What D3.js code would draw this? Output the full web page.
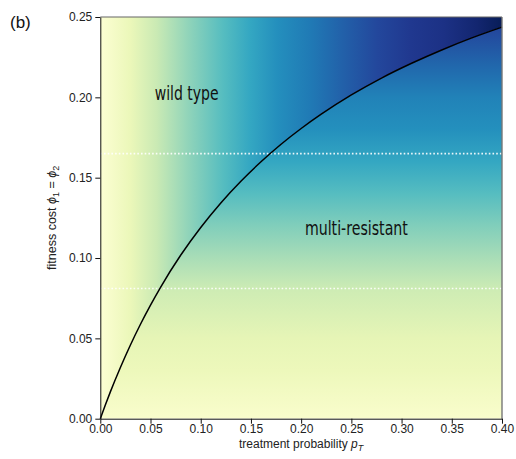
<!DOCTYPE html>
<html>
<head>
<meta charset="utf-8">
<script src="https://cdn.jsdelivr.net/npm/d3@7"></script>
<style>
  html, body { margin: 0; padding: 0; background: #fff; }
  svg { display: block; }
</style>
</head>
<body>
<svg id="chart" width="516" height="459"></svg>
<script>
// boundary curve between the two regions
const curveP   = [0, 0.005, 0.01, 0.02, 0.03, 0.04, 0.05, 0.06, 0.08, 0.10, 0.12, 0.14, 0.16, 0.18, 0.20, 0.22, 0.25, 0.28, 0.31, 0.34, 0.37, 0.40];
const curvePhi = [0, 0.0085, 0.0167, 0.0319, 0.0459, 0.0588, 0.0707, 0.0818, 0.1017, 0.1190, 0.1343, 0.1478, 0.1599, 0.1708, 0.1806, 0.1895, 0.2015, 0.2120, 0.2212, 0.2295, 0.2370, 0.2437];

// wild type region: colour level varies with p_T
const wildP     = [0, 0.03, 0.056, 0.089, 0.122, 0.149, 0.176, 0.209, 0.242, 0.276, 0.309, 0.342, 0.375, 0.40];
const wildLevel = [0.02, 0.12, 0.23, 0.35, 0.46, 0.55, 0.625, 0.68, 0.75, 0.82, 0.87, 0.90, 0.95, 1.0];

// multi-resistant region: colour level varies with phi
const resPhi   = [0, 0.03, 0.05, 0.08, 0.10, 0.12, 0.14, 0.16, 0.18, 0.20, 0.22, 0.24, 0.25];
const resLevel = [0.04, 0.11, 0.14, 0.22, 0.30, 0.375, 0.46, 0.55, 0.62, 0.66, 0.73, 0.81, 0.85];

// dotted reference lines (phi values)
const refPhi = [0.165, 0.081];

const xTicks = [0, 0.05, 0.10, 0.15, 0.20, 0.25, 0.30, 0.35, 0.40];
const yTicks = [0, 0.05, 0.10, 0.15, 0.20, 0.25];

const labels = [
  { text: "wild type",       p: 0.086, phi: 0.1985, len: 64 },
  { text: "multi-resistant", p: 0.255, phi: 0.1145, len: 103 }
];

const margin = { top: 17, right: 14, bottom: 40, left: 100.3 };
const W = 516, H = 459;
const svg = d3.select("#chart");

const x = d3.scaleLinear().domain([0, 0.40]).range([margin.left, W - margin.right]);
const y = d3.scaleLinear().domain([0, 0.25]).range([418.7, margin.top]);
const color = d3.interpolateYlGnBu;

const defs = svg.append("defs");

// horizontal gradient for wild type region
const gWild = defs.append("linearGradient").attr("id", "grad-wild")
  .attr("gradientUnits", "userSpaceOnUse")
  .attr("x1", x(0)).attr("x2", x(0.40)).attr("y1", 0).attr("y2", 0);
gWild.selectAll("stop").data(wildP).enter().append("stop")
  .attr("offset", d => (x(d) - x(0)) / (x(0.40) - x(0)))
  .attr("stop-color", (d, i) => color(wildLevel[i]));

// vertical gradient for multi-resistant region
const gRes = defs.append("linearGradient").attr("id", "grad-res")
  .attr("gradientUnits", "userSpaceOnUse")
  .attr("x1", 0).attr("x2", 0).attr("y1", y(0)).attr("y2", y(0.25));
gRes.selectAll("stop").data(resPhi).enter().append("stop")
  .attr("offset", d => (y(0) - y(d)) / (y(0) - y(0.25)))
  .attr("stop-color", (d, i) => color(resLevel[i]));

const pts = curveP.map((p, i) => [p, curvePhi[i]]);
const line = d3.line().x(d => x(d[0])).y(d => y(d[1])).curve(d3.curveMonotoneX);
const curveD = line(pts);

// clip: above the curve (wild type) and below (resistant)
defs.append("clipPath").attr("id", "clip-wild").append("path")
  .attr("d", curveD + `L${x(0.40)},${y(0.25)}L${x(0)},${y(0.25)}Z`);
defs.append("clipPath").attr("id", "clip-res").append("path")
  .attr("d", curveD + `L${x(0.40)},${y(0)}L${x(0)},${y(0)}Z`);

svg.append("rect")
  .attr("x", x(0)).attr("y", y(0.25))
  .attr("width", x(0.40) - x(0)).attr("height", y(0) - y(0.25))
  .attr("fill", "url(#grad-res)").attr("clip-path", "url(#clip-res)");
svg.append("rect")
  .attr("x", x(0)).attr("y", y(0.25))
  .attr("width", x(0.40) - x(0)).attr("height", y(0) - y(0.25))
  .attr("fill", "url(#grad-wild)").attr("clip-path", "url(#clip-wild)");

// dotted lines
svg.selectAll(".ref").data(refPhi).enter().append("line")
  .attr("x1", x(0)).attr("x2", x(0.40))
  .attr("y1", d => y(d)).attr("y2", d => y(d))
  .attr("stroke", "#ffffff").attr("stroke-opacity", 0.9)
  .attr("stroke-width", 1.6).attr("stroke-dasharray", "1.6,2.1");

// boundary curve
svg.append("path").attr("d", curveD)
  .attr("fill", "none").attr("stroke", "#000").attr("stroke-width", 1.5);

// region labels (condensed look)
svg.selectAll(".reg").data(labels).enter().append("text")
  .attr("x", d => x(d.p)).attr("y", d => y(d.phi))
  .attr("text-anchor", "middle")
  .attr("font-family", "'Liberation Sans Narrow', 'DejaVu Sans Condensed', 'Liberation Sans', sans-serif")
  .attr("font-size", 19)
  .attr("textLength", d => d.len)
  .attr("lengthAdjust", "spacingAndGlyphs")
  .attr("fill", "#111")
  .text(d => d.text);

// frame: top and right in grey
svg.append("line").attr("x1", x(0)).attr("x2", x(0.40)).attr("y1", y(0.25)).attr("y2", y(0.25))
  .attr("stroke", "#666").attr("stroke-width", 1.2);
svg.append("line").attr("x1", x(0.40)).attr("x2", x(0.40)).attr("y1", y(0.25)).attr("y2", y(0))
  .attr("stroke", "#777").attr("stroke-width", 1.4);

const fmt = d3.format(".2f");
function styleAxis(g) {
  g.selectAll("path, line").attr("stroke", "#111").attr("stroke-width", 1);
  g.selectAll("text").attr("fill", "#222")
    .attr("font-family", "'Liberation Sans', Arial, sans-serif").attr("font-size", 12);
}

svg.append("g").attr("transform", `translate(0,${y(0)})`)
  .call(d3.axisBottom(x).tickValues(xTicks).tickFormat(fmt).tickSize(5).tickPadding(1).tickSizeOuter(0))
  .call(styleAxis);
svg.append("g").attr("transform", `translate(${x(0)},0)`)
  .call(d3.axisLeft(y).tickValues(yTicks).tickFormat(fmt).tickSize(5).tickPadding(3).tickSizeOuter(0))
  .call(styleAxis);

// axis titles
const xl = svg.append("text")
  .attr("x", (x(0) + x(0.40)) / 2).attr("y", 448)
  .attr("text-anchor", "middle")
  .attr("font-family", "'Liberation Sans', Arial, sans-serif").attr("font-size", 12).attr("fill", "#222");
xl.append("tspan").text("treatment probability ");
xl.append("tspan").attr("font-style", "italic").text("p");
xl.append("tspan").attr("font-style", "italic").attr("font-size", 9).attr("dy", 3).text("T");

const yl = svg.append("text")
  .attr("transform", `translate(56,${(y(0) + y(0.25)) / 2}) rotate(-90)`)
  .attr("text-anchor", "middle")
  .attr("font-family", "'Liberation Sans', Arial, sans-serif").attr("font-size", 12.5).attr("fill", "#222");
yl.append("tspan").text("fitness cost ");
yl.append("tspan").attr("font-style", "italic").text("\u03d5");
yl.append("tspan").attr("font-size", 9).attr("dy", 3).text("1");
yl.append("tspan").attr("dy", -3).text(" = ");
yl.append("tspan").attr("font-style", "italic").text("\u03d5");
yl.append("tspan").attr("font-size", 9).attr("dy", 3).text("2");

// panel tag
svg.append("text").attr("x", 10).attr("y", 28)
  .attr("font-family", "'Liberation Sans', Arial, sans-serif").attr("font-size", 17).attr("fill", "#111")
  .text("(b)");
</script>
</body>
</html>
